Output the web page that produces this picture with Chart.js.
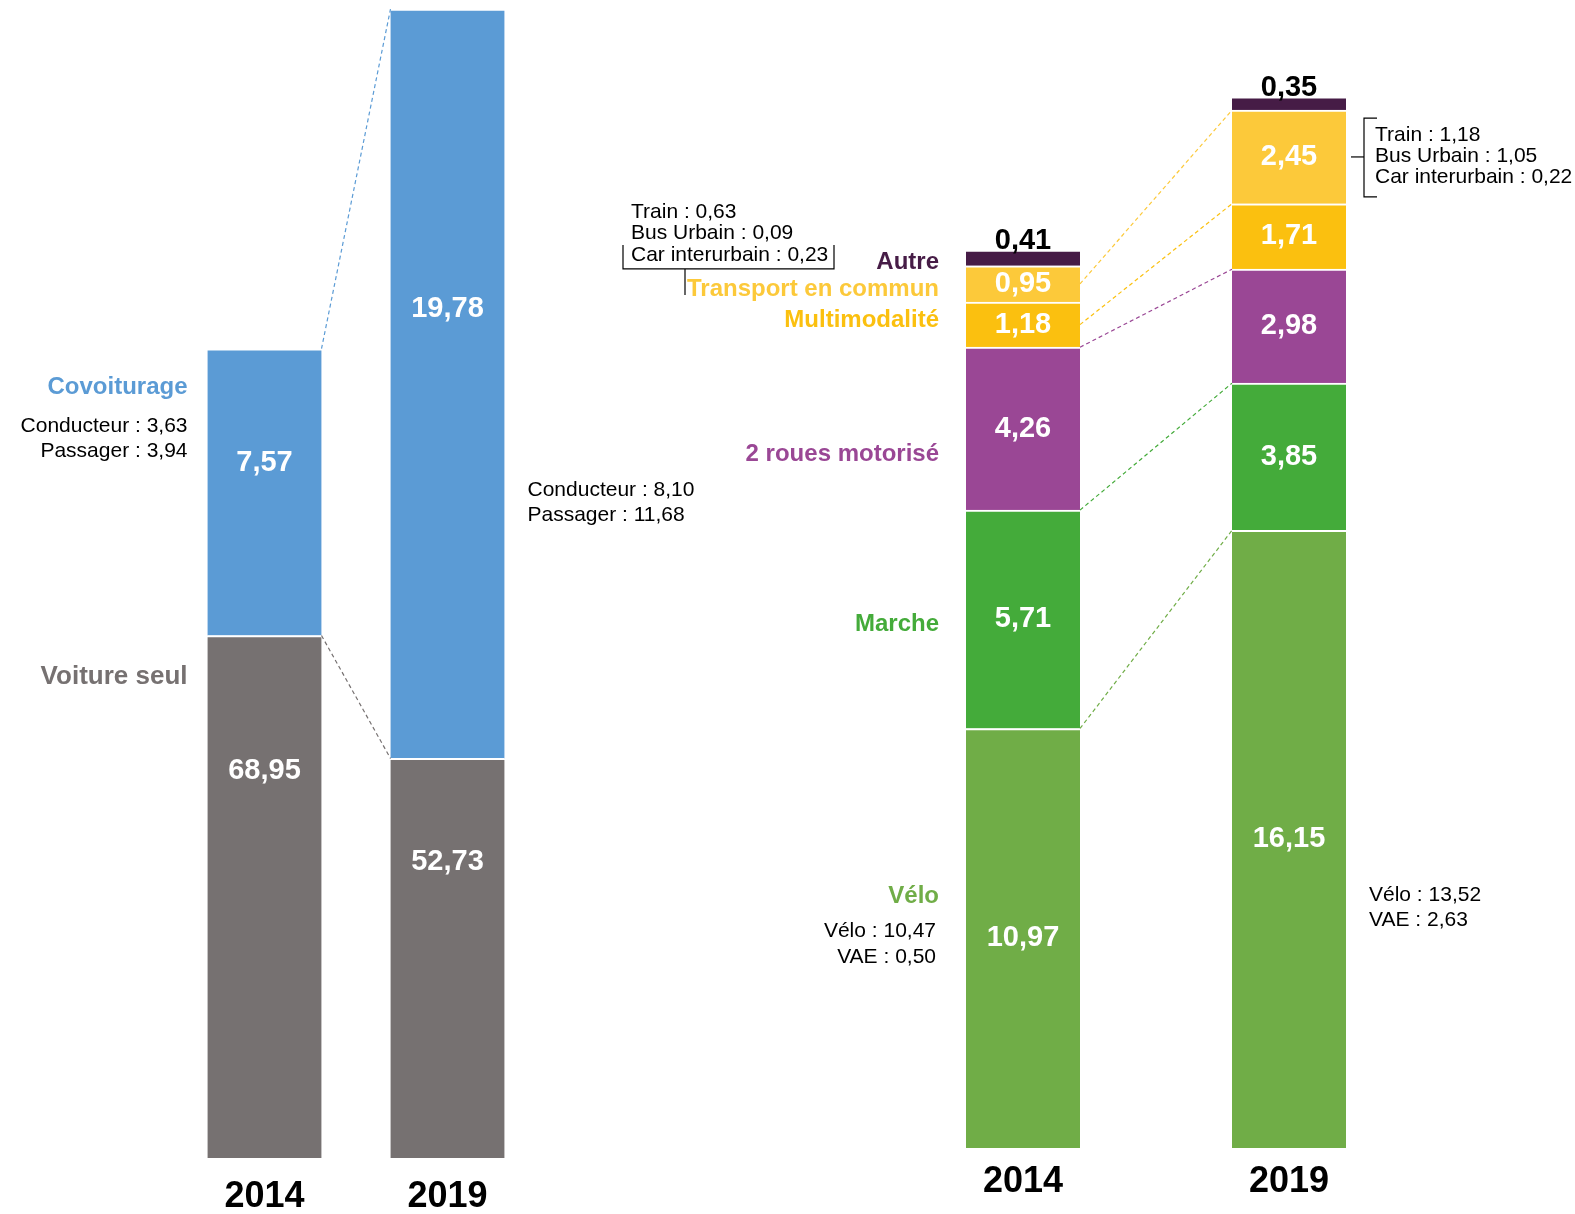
<!DOCTYPE html>
<html lang="fr">
<head>
<meta charset="utf-8">
<title>Parts modales 2014 - 2019</title>
<script src="https://cdn.jsdelivr.net/npm/chart.js@4/dist/chart.umd.min.js"></script>
<style>
  html, body { margin: 0; padding: 0; background: #fff; overflow: hidden; height: 1214px; }
  .box { position: absolute; top: 0; }
  #leftBox { left: 0; width: 720px; height: 1236px; }
  #rightBox { left: 560px; width: 1015px; height: 1234px; }
</style>
</head>
<body>
<div class="box" id="leftBox"><canvas id="leftChart"></canvas></div>
<div class="box" id="rightBox"><canvas id="rightChart"></canvas></div>
<script>
// annees
const YEARS = ['2014', '2019'];

// voiture (graphique de gauche)
const voitureSeul = [68.95, 52.73];
const covoiturage = [7.57, 19.78];
const covConducteur = [3.63, 8.10];
const covPassager = [3.94, 11.68];

// autres modes (graphique de droite)
const MODES = ['Vélo', 'Marche', '2 roues motorisé', 'Multimodalité', 'Transport en commun', 'Autre'];
const velo = [10.97, 16.15];
const marche = [5.71, 3.85];
const deuxRoues = [4.26, 2.98];
const multimodalite = [1.18, 1.71];
const transportCommun = [0.95, 2.45];
const autre = [0.41, 0.35];

// details
const veloClassique = [10.47, 13.52];
const vae = [0.50, 2.63];
const train = [0.63, 1.18];
const busUrbain = [0.09, 1.05];
const carInterurbain = [0.23, 0.22];

// la voiture seule est dessinee a une echelle 5 fois plus petite (axe casse)
const CAR_SCALE = 5;

const FONT = '"Liberation Sans", Arial, sans-serif';
Chart.defaults.font.family = FONT;

const BLUE = '#5b9bd5', GREY = '#767171';
const COLORS = ['#70ad47', '#44ab3a', '#9a4795', '#fbc00f', '#fcc93a', '#461c46'];

const fmt = v => v.toFixed(2).replace('.', ',');

function txt(ctx, s, x, y, font, color, align) {
  ctx.save();
  ctx.font = font;
  ctx.fillStyle = color;
  ctx.textAlign = align || 'center';
  ctx.textBaseline = 'middle';
  ctx.fillText(s, x, y);
  ctx.restore();
}
function dashed(ctx, x1, y1, x2, y2, color) {
  ctx.save();
  ctx.strokeStyle = color;
  ctx.lineWidth = 1.2;
  ctx.setLineDash([4, 3]);
  ctx.beginPath();
  ctx.moveTo(x1, y1);
  ctx.lineTo(x2, y2);
  ctx.stroke();
  ctx.restore();
}
function poly(ctx, pts) {
  ctx.save();
  ctx.strokeStyle = '#000';
  ctx.lineWidth = 1.2;
  ctx.beginPath();
  pts.forEach((p, i) => i ? ctx.lineTo(p[0], p[1]) : ctx.moveTo(p[0], p[1]));
  ctx.stroke();
  ctx.restore();
}

const valueFont = 'bold 29px ' + FONT;
const catFont = 'bold 24px ' + FONT;
const smallFont = '21px ' + FONT;

const xAxis = (pad) => ({
  stacked: true,
  offset: true,
  grid: { display: false, drawTicks: false },
  border: { display: false },
  ticks: { color: '#000', padding: pad, font: { size: 36, weight: 'bold', lineHeight: 1 } }
});

// ---------- graphique de gauche ----------
const leftLabels = {
  id: 'leftLabels',
  afterDatasetsDraw(chart) {
    const ctx = chart.ctx;
    const car = chart.getDatasetMeta(0).data;
    const cov = chart.getDatasetMeta(1).data;
    const w = car[0].width;

    dashed(ctx, cov[0].x + w / 2, cov[0].y, cov[1].x - w / 2, cov[1].y, BLUE);
    dashed(ctx, car[0].x + w / 2, car[0].y, car[1].x - w / 2, car[1].y, GREY);

    car.forEach((b, i) => txt(ctx, fmt(voitureSeul[i]), b.x, b.y + (b.base - b.y) * 0.26, valueFont, '#fff'));
    cov.forEach((b, i) => txt(ctx, fmt(covoiturage[i]), b.x, b.y + (b.base - b.y) * 0.40, valueFont, '#fff'));

    const lx = cov[0].x - w / 2 - 20;
    txt(ctx, 'Covoiturage', lx, cov[0].y + 39, catFont, BLUE, 'right');
    txt(ctx, 'Conducteur : ' + fmt(covConducteur[0]), lx, cov[0].y + 77, smallFont, '#000', 'right');
    txt(ctx, 'Passager : ' + fmt(covPassager[0]), lx, cov[0].y + 102, smallFont, '#000', 'right');
    txt(ctx, 'Voiture seul', lx, car[0].y + 41, 'bold 26px ' + FONT, GREY, 'right');

    const rx = cov[1].x + w / 2 + 23;
    const mid = (cov[1].y + cov[1].base) / 2;
    txt(ctx, 'Conducteur : ' + fmt(covConducteur[1]), rx, mid + 106, smallFont, '#000', 'left');
    txt(ctx, 'Passager : ' + fmt(covPassager[1]), rx, mid + 131, smallFont, '#000', 'left');
  }
};

const Y_MAX_LEFT = 30.3;
new Chart(document.getElementById('leftChart'), {
  type: 'bar',
  data: {
    labels: YEARS,
    datasets: [
      { label: 'Voiture seul', data: voitureSeul, yAxisID: 'yCar', backgroundColor: GREY },
      { label: 'Covoiturage', data: covoiturage.map((v, i) => [voitureSeul[i] / CAR_SCALE, voitureSeul[i] / CAR_SCALE + v]),
        yAxisID: 'y', backgroundColor: BLUE }
    ]
  },
  options: {
    responsive: true,
    maintainAspectRatio: false,
    animation: false,
    layout: { padding: { left: 173, right: 181, top: 10, bottom: 0 } },
    datasets: { bar: { barThickness: 114, borderColor: '#fff', borderWidth: { top: 2, left: 0, right: 0, bottom: 0 }, borderSkipped: false } },
    plugins: { legend: { display: false }, tooltip: { enabled: false } },
    scales: {
      x: xAxis(21),
      y: { display: false, min: 0, max: Y_MAX_LEFT },
      yCar: { display: false, min: 0, max: Y_MAX_LEFT * CAR_SCALE }
    }
  },
  plugins: [leftLabels]
});

// ---------- graphique de droite ----------
const RIGHT_DY = [-42, 5, 26, -4, 5, 4];

const rightLabels = {
  id: 'rightLabels',
  afterDatasetsDraw(chart) {
    const ctx = chart.ctx;
    const metas = MODES.map((m, k) => chart.getDatasetMeta(k).data);
    const w = metas[0][0].width;
    const vals = chart.data.datasets.map(d => d.data);

    // liaisons entre 2014 et 2019
    metas.slice(0, 5).forEach((bars, k) => {
      const a = bars[0], b = bars[1];
      const y0 = k >= 3 ? (a.y + a.base) / 2 : a.y;
      dashed(ctx, a.x + w / 2, y0, b.x - w / 2, b.y, COLORS[k]);
    });

    // valeurs
    metas.forEach((bars, k) => bars.forEach((b, i) => {
      if (k === 5) txt(ctx, fmt(vals[k][i]), b.x, b.y - 9, valueFont, '#000');
      else txt(ctx, fmt(vals[k][i]), b.x, (b.y + b.base) / 2, valueFont, '#fff');
    }));

    // noms des modes a gauche de 2014
    const left0 = metas[0][0].x - w / 2;
    metas.forEach((bars, k) => {
      const b = bars[0];
      txt(ctx, MODES[k], left0 - 27, (b.y + b.base) / 2 + RIGHT_DY[k], catFont, COLORS[k], 'right');
    });

    // detail velo
    const v0 = metas[0][0], v1 = metas[0][1];
    const c0 = (v0.y + v0.base) / 2, c1 = (v1.y + v1.base) / 2;
    txt(ctx, 'Vélo : ' + fmt(veloClassique[0]), left0 - 30, c0 - 7, smallFont, '#000', 'right');
    txt(ctx, 'VAE : ' + fmt(vae[0]), left0 - 30, c0 + 19, smallFont, '#000', 'right');
    const right1 = v1.x + w / 2;
    txt(ctx, 'Vélo : ' + fmt(veloClassique[1]), right1 + 23, c1 + 56, smallFont, '#000', 'left');
    txt(ctx, 'VAE : ' + fmt(vae[1]), right1 + 23, c1 + 81, smallFont, '#000', 'left');

    // accolade transport en commun 2014
    const t0 = metas[4][0];
    const tc = (t0.y + t0.base) / 2;
    poly(ctx, [[left0 - 343, tc - 39], [left0 - 343, tc - 15], [left0 - 132, tc - 15], [left0 - 132, tc - 39]]);
    poly(ctx, [[left0 - 281, tc - 15], [left0 - 281, tc + 11]]);
    txt(ctx, 'Train : ' + fmt(train[0]), left0 - 335, tc - 72, smallFont, '#000', 'left');
    txt(ctx, 'Bus Urbain : ' + fmt(busUrbain[0]), left0 - 335, tc - 51, smallFont, '#000', 'left');
    txt(ctx, 'Car interurbain : ' + fmt(carInterurbain[0]), left0 - 335, tc - 29, smallFont, '#000', 'left');

    // accolade transport en commun 2019
    const t1 = metas[4][1];
    const bx = t1.x + w / 2 + 18;
    const tm = (t1.y + t1.base) / 2;
    poly(ctx, [[bx + 13, t1.y + 8], [bx, t1.y + 8], [bx, t1.base - 7], [bx + 13, t1.base - 7]]);
    poly(ctx, [[bx - 13, tm], [bx, tm]]);
    txt(ctx, 'Train : ' + fmt(train[1]), bx + 11, tm - 22, smallFont, '#000', 'left');
    txt(ctx, 'Bus Urbain : ' + fmt(busUrbain[1]), bx + 11, tm - 1, smallFont, '#000', 'left');
    txt(ctx, 'Car interurbain : ' + fmt(carInterurbain[1]), bx + 11, tm + 20, smallFont, '#000', 'left');
  }
};

const rightSeries = [velo, marche, deuxRoues, multimodalite, transportCommun, autre];
new Chart(document.getElementById('rightChart'), {
  type: 'bar',
  data: {
    labels: YEARS,
    datasets: MODES.map((m, k) => ({ label: m, data: rightSeries[k], backgroundColor: COLORS[k] }))
  },
  options: {
    responsive: true,
    maintainAspectRatio: false,
    animation: false,
    layout: { padding: { left: 330, right: 153, top: 60, bottom: 18 } },
    datasets: { bar: { barThickness: 114, borderColor: '#fff', borderWidth: { top: 2, left: 0, right: 0, bottom: 0 }, borderSkipped: false } },
    plugins: { legend: { display: false }, tooltip: { enabled: false } },
    scales: {
      x: xAxis(16),
      y: { display: false, stacked: true, min: 0, max: 28.45 }
    }
  },
  plugins: [rightLabels]
});
</script>
</body>
</html>
